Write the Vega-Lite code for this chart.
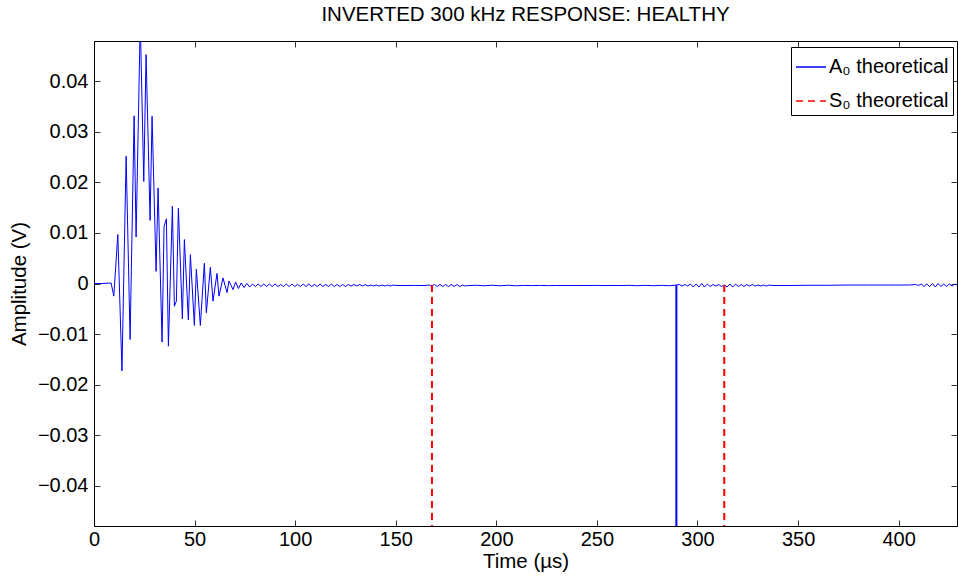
{
  "$schema": "https://vega.github.io/schema/vega-lite/v6.json",
  "width": 863,
  "height": 485,
  "autosize": {"type": "none"},
  "padding": {"left": 94, "top": 41, "right": 1, "bottom": 52},
  "background": "white",
  "title": {"text": "INVERTED 300 kHz RESPONSE: HEALTHY", "fontSize": 20.5, "font": "Liberation Sans", "fontWeight": "normal", "color": "black", "offset": 15, "anchor": "middle"},
  "config": {
    "view": {"stroke": "black", "strokeWidth": 1},
    "axis": {"domain": false, "grid": false, "tickColor": "black", "tickSize": -6, "tickWidth": 0.8, "labelFont": "Liberation Sans", "labelFontSize": 20, "labelColor": "black", "titleFont": "Liberation Sans", "titleFontSize": 20.5, "titleFontWeight": "normal", "titleColor": "black", "labelFlush": false, "labelOverlap": false},
    "legend": {"labelFont": "Liberation Sans", "labelFontSize": 20, "labelColor": "black"}
  },
  "datasets": {
    "signal": [
      {"t": 0, "v": 0}, {"t": 4, "v": 0}, {"t": 8.5, "v": 0.0001},
      {"t": 9.85, "v": -0.0025}, {"t": 11.83, "v": 0.0097}, {"t": 13.9, "v": -0.0173}, {"t": 15.97, "v": 0.0252},
      {"t": 17.95, "v": -0.0111}, {"t": 19.94, "v": 0.0332}, {"t": 20.93, "v": 0.0092}, {"t": 23.0, "v": 0.052},
      {"t": 24.74, "v": 0.0202}, {"t": 25.89, "v": 0.0453}, {"t": 27.88, "v": 0.0125}, {"t": 28.87, "v": 0.0331},
      {"t": 30.86, "v": 0.0024}, {"t": 31.85, "v": 0.0189}, {"t": 33.84, "v": -0.0116}, {"t": 34.83, "v": 0.0113},
      {"t": 35.99, "v": 0.0128}, {"t": 36.98, "v": -0.0124}, {"t": 38.97, "v": 0.0153}, {"t": 39.96, "v": -0.0045},
      {"t": 40.95, "v": -0.0035}, {"t": 41.95, "v": 0.0149}, {"t": 43.93, "v": -0.007}, {"t": 44.93, "v": 0.0087},
      {"t": 46.91, "v": -0.0072}, {"t": 47.91, "v": 0.0057}, {"t": 49.89, "v": -0.0083}, {"t": 50.88, "v": 0.0028},
      {"t": 52.87, "v": -0.0083}, {"t": 54.86, "v": 0.004}, {"t": 55.85, "v": -0.0058}, {"t": 57.84, "v": 0.0032},
      {"t": 59.16, "v": -0.0035}, {"t": 61.15, "v": 0.002}, {"t": 62.14, "v": -0.0025}, {"t": 64.12, "v": 0.0011},
      {"t": 66.11, "v": -0.0018}, {"t": 67.1, "v": 0.0005}, {"t": 69.1, "v": -0.0012}, {"t": 70.4, "v": 0.0003},
      {"t": 71.8, "v": -0.001}, {"t": 73.2, "v": 0.0001}, {"t": 74.6, "v": -0.0008}, {"t": 76.0, "v": 0.0},
      {"t": 77.4, "v": -0.0007}, {"t": 78.8, "v": -0.0001},
      {"t": 80.2, "v": -0.0006}, {"t": 81.6, "v": -0.0001}, {"t": 83.0, "v": -0.0006}, {"t": 84.4, "v": -0.0001},
      {"t": 85.8, "v": -0.0006}, {"t": 87.2, "v": -0.0001}, {"t": 88.6, "v": -0.0006}, {"t": 90.0, "v": -0.0001},
      {"t": 91.4, "v": -0.0006}, {"t": 92.8, "v": -0.0002}, {"t": 94.2, "v": -0.0006}, {"t": 95.6, "v": -0.0001},
      {"t": 97.0, "v": -0.0006}, {"t": 98.4, "v": -0.0001}, {"t": 99.8, "v": -0.0006}, {"t": 101.2, "v": -0.0002},
      {"t": 102.6, "v": -0.0006}, {"t": 104.0, "v": -0.0001}, {"t": 105.4, "v": -0.0006}, {"t": 106.8, "v": -0.0001},
      {"t": 108.2, "v": -0.0006}, {"t": 109.6, "v": -0.0002}, {"t": 111.0, "v": -0.0006}, {"t": 112.4, "v": -0.0001},
      {"t": 113.8, "v": -0.0006}, {"t": 115.2, "v": -0.0002}, {"t": 116.6, "v": -0.0006}, {"t": 118.0, "v": -0.0001},
      {"t": 119.4, "v": -0.0006}, {"t": 120.8, "v": -0.0002}, {"t": 122.2, "v": -0.0006}, {"t": 123.6, "v": -0.0002},
      {"t": 125.0, "v": -0.0006}, {"t": 126.4, "v": -0.0002}, {"t": 127.8, "v": -0.0005}, {"t": 129.2, "v": -0.0002},
      {"t": 130.6, "v": -0.0005}, {"t": 132.0, "v": -0.0002}, {"t": 133.4, "v": -0.0005}, {"t": 134.8, "v": -0.0002},
      {"t": 136.2, "v": -0.0005}, {"t": 137.6, "v": -0.0003}, {"t": 139.0, "v": -0.0005}, {"t": 140.4, "v": -0.0003},
      {"t": 141.8, "v": -0.0005}, {"t": 143.2, "v": -0.0003}, {"t": 144.6, "v": -0.0005}, {"t": 146.0, "v": -0.0003},
      {"t": 147.4, "v": -0.0005}, {"t": 148.8, "v": -0.0003}, {"t": 150.2, "v": -0.0004},
      {"t": 155, "v": -0.0004}, {"t": 160, "v": -0.00038}, {"t": 165, "v": -0.0004},
      {"t": 166.4, "v": -0.0003}, {"t": 167.8, "v": -0.0005}, {"t": 169.2, "v": -0.0002}, {"t": 170.6, "v": -0.0006},
      {"t": 172.0, "v": -0.0002}, {"t": 173.4, "v": -0.0006}, {"t": 174.8, "v": -0.0002}, {"t": 176.2, "v": -0.0006},
      {"t": 177.6, "v": -0.0002}, {"t": 179.0, "v": -0.0006}, {"t": 180.4, "v": -0.0002}, {"t": 181.8, "v": -0.0006},
      {"t": 183.2, "v": -0.0003}, {"t": 184.6, "v": -0.0005}, {"t": 186.0, "v": -0.0004},
      {"t": 190, "v": -0.00035}, {"t": 194, "v": -0.00045}, {"t": 198, "v": -0.00035}, {"t": 202, "v": -0.00045},
      {"t": 206, "v": -0.00035}, {"t": 210, "v": -0.00045}, {"t": 214, "v": -0.00038}, {"t": 218, "v": -0.00042},
      {"t": 222, "v": -0.00038}, {"t": 226, "v": -0.00042}, {"t": 230, "v": -0.0004}, {"t": 240, "v": -0.0004},
      {"t": 250, "v": -0.00038}, {"t": 254, "v": -0.00042}, {"t": 258, "v": -0.00038}, {"t": 262, "v": -0.00042},
      {"t": 266, "v": -0.00036}, {"t": 270, "v": -0.00044}, {"t": 274, "v": -0.00036}, {"t": 278, "v": -0.00044},
      {"t": 282, "v": -0.00036}, {"t": 286, "v": -0.00044}, {"t": 289.5, "v": -0.0003},
      {"t": 290.9, "v": -0.0002}, {"t": 292.3, "v": -0.0005}, {"t": 293.7, "v": -0.0002}, {"t": 295.1, "v": -0.0005},
      {"t": 296.5, "v": -0.0001}, {"t": 297.9, "v": -0.0007}, {"t": 299.3, "v": -0.0001}, {"t": 300.7, "v": -0.0007},
      {"t": 302.1, "v": 0.0}, {"t": 303.5, "v": -0.0007}, {"t": 304.9, "v": -0.0001}, {"t": 306.3, "v": -0.0006},
      {"t": 307.7, "v": -0.0002}, {"t": 309.1, "v": -0.0005}, {"t": 310.5, "v": -0.0002}, {"t": 311.9, "v": -0.0006},
      {"t": 313.3, "v": -0.0003}, {"t": 314.7, "v": -0.0007}, {"t": 316.1, "v": -0.0001}, {"t": 317.5, "v": -0.0007},
      {"t": 318.9, "v": -0.0001}, {"t": 320.3, "v": -0.0006}, {"t": 321.7, "v": -0.0002}, {"t": 323.1, "v": -0.0006},
      {"t": 324.5, "v": -0.0002}, {"t": 325.9, "v": -0.0005}, {"t": 327.3, "v": -0.0002}, {"t": 328.7, "v": -0.0005},
      {"t": 330.1, "v": -0.0003}, {"t": 331.5, "v": -0.0005}, {"t": 332.9, "v": -0.0003}, {"t": 334.3, "v": -0.0005},
      {"t": 335.7, "v": -0.0003}, {"t": 337.1, "v": -0.0004},
      {"t": 345, "v": -0.0004}, {"t": 355, "v": -0.00035}, {"t": 365, "v": -0.00035}, {"t": 375, "v": -0.0003},
      {"t": 385, "v": -0.0003}, {"t": 395, "v": -0.0003}, {"t": 405, "v": -0.0003},
      {"t": 408.4, "v": -0.0002}, {"t": 409.8, "v": -0.0004}, {"t": 411.2, "v": -0.0001}, {"t": 412.6, "v": -0.0006},
      {"t": 414.0, "v": -0.0001}, {"t": 415.4, "v": -0.0006}, {"t": 416.8, "v": 0.0}, {"t": 418.2, "v": -0.0007},
      {"t": 419.6, "v": 0.0}, {"t": 421.0, "v": -0.0006}, {"t": 422.4, "v": -0.0001}, {"t": 423.8, "v": -0.0006},
      {"t": 425.2, "v": -0.0001}, {"t": 426.6, "v": -0.0005}, {"t": 428.0, "v": -0.0001}, {"t": 429.4, "v": -0.0004}
    ],
    "markers": [
      {"t": 289.5, "mode": "A₀ theoretical"},
      {"t": 168.0, "mode": "S₀ theoretical"},
      {"t": 313.3, "mode": "S₀ theoretical"}
    ]
  },
  "layer": [
    {
      "data": {"name": "signal"},
      "mark": {"type": "line", "color": "#0000ff", "strokeWidth": 1, "clip": true},
      "encoding": {
        "x": {"field": "t", "type": "quantitative", "scale": {"domain": [0, 429], "nice": false, "zero": false},
              "axis": {"orient": "bottom", "values": [0, 50, 100, 150, 200, 250, 300, 350, 400], "title": "Time (µs)", "labelPadding": 9, "titlePadding": 2}},
        "y": {"field": "v", "type": "quantitative", "scale": {"domain": [-0.048, 0.048], "nice": false, "zero": false},
              "axis": {"orient": "left", "values": [-0.04, -0.03, -0.02, -0.01, 0, 0.01, 0.02, 0.03, 0.04], "format": ".2~f", "title": "Amplitude (V)", "labelPadding": 12, "titlePadding": 8}}
      }
    },
    {
      "data": {"name": "markers"},
      "mark": {"type": "rule", "strokeWidth": 2, "clip": true},
      "encoding": {
        "x": {"field": "t", "type": "quantitative", "axis": {"orient": "top", "values": [0, 50, 100, 150, 200, 250, 300, 350, 400], "labels": false, "title": null}},
        "y": {"datum": -0.0003, "type": "quantitative", "axis": {"orient": "right", "values": [-0.04, -0.03, -0.02, -0.01, 0, 0.01, 0.02, 0.03, 0.04], "labels": false, "title": null}},
        "y2": {"datum": -0.048},
        "color": {"field": "mode", "type": "nominal", "scale": {"domain": ["A₀ theoretical", "S₀ theoretical"], "range": ["#0000ff", "#ff0000"]},
                  "legend": {"title": null, "orient": "none", "legendX": 697, "legendY": 6, "symbolType": "stroke", "symbolSize": 900, "symbolStrokeWidth": 1.5, "strokeColor": "black", "fillColor": "white", "padding": 4, "rowPadding": 8, "labelOffset": 2}},
        "strokeDash": {"field": "mode", "type": "nominal", "scale": {"domain": ["A₀ theoretical", "S₀ theoretical"], "range": [[1, 0], [7, 5]]},
                  "legend": {"title": null, "orient": "none", "legendX": 697, "legendY": 6, "symbolType": "stroke", "symbolSize": 900, "symbolStrokeWidth": 1.5, "strokeColor": "black", "fillColor": "white", "padding": 4, "rowPadding": 8, "labelOffset": 2}}
      }
    }
  ],
  "resolve": {"axis": {"x": "independent", "y": "independent"}}
}
